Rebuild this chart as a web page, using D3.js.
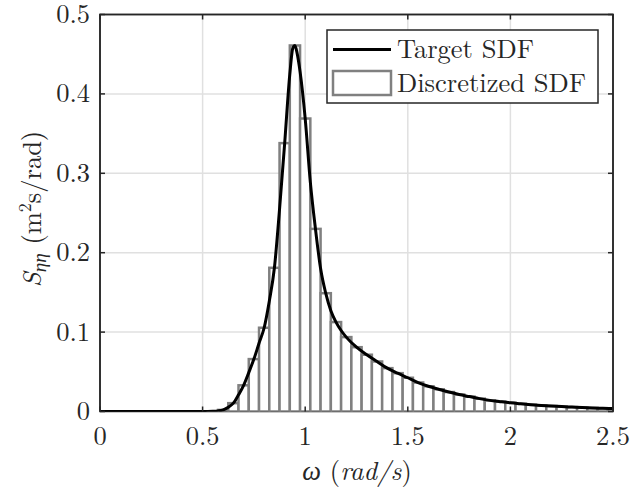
<!DOCTYPE html>
<html><head><meta charset="utf-8">
<script src="https://cdn.jsdelivr.net/npm/d3@7"></script>
<style>
body{margin:0;background:#fff;}
svg{display:block;}
</style></head>
<body><svg id="c" width="630" height="493"></svg>
<script>
// Bar centres (rad/s) and discretized SDF heights
const barOmega = d3.range(0, 51).map(i => +(i * 0.05).toFixed(2));
const barS = [0,0,0,0,0,0,0,0,0,0,0,
  0.0002,0.002,0.0105,0.033,0.066,0.1055,0.181,0.338,0.461,0.369,
  0.230,0.149,0.1126,0.0937,0.081,0.0715,0.0630,0.0546,0.0483,0.0425,
  0.0365,0.0318,0.0280,0.0245,0.0214,0.0188,0.0162,0.0140,0.0124,0.0109,
  0.0097,0.0086,0.0077,0.0069,0.0062,0.0056,0.0050,0.0045,0.0041,0.0037];
// Target SDF curve points
const curveOmega = [0,0.1,0.2,0.3,0.4,0.5,0.525,0.55,0.575,0.6,0.625,0.65,0.675,0.7,0.725,0.75,0.775,0.8,0.825,0.85,0.875,0.9,0.925,0.94,0.95,0.96,0.975,1.0,1.025,1.05,1.075,1.1,1.125,1.15,1.175,1.2,
  1.25,1.3,1.35,1.4,1.45,1.5,1.55,1.6,1.65,1.7,1.75,1.8,1.85,1.9,1.95,2.0,2.05,2.1,2.15,2.2,2.25,2.3,2.35,2.4,2.45,2.5];
const curveS = [0,0,0,0,0,0.00001,0.00003,0.0002,0.0007,0.002,0.0055,0.0105,0.021,0.033,0.049,0.066,0.086,0.1055,0.139,0.181,0.255,0.338,0.425,0.458,0.461,0.452,0.428,0.369,0.289,0.230,0.180,0.149,0.127,0.1126,0.102,0.0937,
  0.081,0.0715,0.0630,0.0546,0.0483,0.0425,0.0365,0.0318,0.0280,0.0245,0.0214,0.0188,0.0162,0.0140,0.0124,0.0109,0.0097,0.0086,0.0077,0.0069,0.0062,0.0056,0.0050,0.0045,0.0041,0.0037];
const xTicks = [0,0.5,1,1.5,2,2.5];
const xTickLabels = ["0","0.5","1","1.5","2","2.5"];
const yTicks = [0,0.1,0.2,0.3,0.4,0.5];
const yTickLabels = ["0","0.1","0.2","0.3","0.4","0.5"];
const legendLabels = ["Target SDF","Discretized SDF"];

const FONT = "'Latin Modern Roman', 'Liberation Serif', serif";
const L=100, T=14.5, R=613, B=411.5;
const svg = d3.select("#c");
const x = d3.scaleLinear().domain([0,2.5]).range([L,R]);
const y = d3.scaleLinear().domain([0,0.5]).range([B,T]);
const axisColor = "#262626";
const txtColor = "#262626";

svg.append("defs").append("clipPath").attr("id","clip")
  .append("rect").attr("x",L).attr("y",T).attr("width",R-L).attr("height",B-T);

// grid
const g = svg.append("g");
g.selectAll(".gx").data(xTicks.slice(1,-1)).join("line")
  .attr("x1",d=>x(d)).attr("x2",d=>x(d)).attr("y1",T).attr("y2",B)
  .attr("stroke","#e0e0e0").attr("stroke-width",1.5);
g.selectAll(".gy").data(yTicks.slice(1,-1)).join("line")
  .attr("y1",d=>y(d)).attr("y2",d=>y(d)).attr("x1",L).attr("x2",R)
  .attr("stroke","#e0e0e0").attr("stroke-width",1.5);

// box
svg.append("rect").attr("x",L).attr("y",T).attr("width",R-L).attr("height",B-T)
  .attr("fill","none").attr("stroke",axisColor).attr("stroke-width",1.5);

// bars
const bw = 0.05;
const plot = svg.append("g").attr("clip-path","url(#clip)");
plot.selectAll(".bar").data(barOmega.map((w,i)=>({w, s:barS[i]}))).join("rect")
  .attr("x",d=>x(d.w-bw/2)).attr("width",d=>x(d.w+bw/2)-x(d.w-bw/2))
  .attr("y",d=>y(d.s)).attr("height",d=>Math.max(0,y(0)-y(d.s)))
  .attr("fill","#fff").attr("stroke","#808080").attr("stroke-width",2.5);

// curve
const line = d3.line().x(d=>x(d[0])).y(d=>y(d[1])).curve(d3.curveMonotoneX);
plot.append("path").datum(curveOmega.map((w,i)=>[w,curveS[i]]))
  .attr("d",line).attr("fill","none").attr("stroke","#000").attr("stroke-width",3)
  .attr("stroke-linejoin","round");

// ticks (inward, all sides)
const tl = 5;
const tk = svg.append("g").attr("stroke",axisColor).attr("stroke-width",1.5);
xTicks.forEach(v=>{
  tk.append("line").attr("x1",x(v)).attr("x2",x(v)).attr("y1",B).attr("y2",B-tl);
  tk.append("line").attr("x1",x(v)).attr("x2",x(v)).attr("y1",T).attr("y2",T+tl);
});
yTicks.forEach(v=>{
  tk.append("line").attr("y1",y(v)).attr("y2",y(v)).attr("x1",L).attr("x2",L+tl);
  tk.append("line").attr("y1",y(v)).attr("y2",y(v)).attr("x1",R).attr("x2",R-tl);
});
svg.append("path").attr("d",`M${L},${B}V${T}H${R}V${B}`).attr("fill","none")
  .attr("stroke",axisColor).attr("stroke-width",1.5);

// tick labels
const fs = 26.5;
svg.selectAll(".xl").data(xTicks).join("text")
  .style("font-family",FONT).attr("fill",txtColor)
  .attr("x",d=>x(d)).attr("y",445).attr("text-anchor","middle")
  .attr("font-size",fs)
  .text((d,i)=>xTickLabels[i]);
svg.selectAll(".yl").data(yTicks).join("text")
  .style("font-family",FONT).attr("fill",txtColor)
  .attr("x",90).attr("y",d=>y(d)+8.5).attr("text-anchor","end")
  .attr("font-size",fs)
  .text((d,i)=>yTickLabels[i]);

// x label
const xl = svg.append("text").style("font-family",FONT).attr("fill",txtColor)
  .attr("x",357).attr("y",480).attr("text-anchor","middle").attr("font-size",fs);
xl.append("tspan").attr("font-style","italic").text("ω");
xl.append("tspan").text(" (");
xl.append("tspan").attr("font-style","italic").text("rad/s");
xl.append("tspan").text(")");

// y label
const yl = svg.append("text").style("font-family",FONT).attr("fill",txtColor)
  .attr("transform","translate(41,209) rotate(-90)")
  .attr("text-anchor","middle").attr("font-size",fs);
yl.append("tspan").attr("font-style","italic").text("S");
yl.append("tspan").attr("font-style","italic").attr("font-size",19).attr("dy",5).text("ηη");
yl.append("tspan").attr("dy",-5).text(" (m");
yl.append("tspan").attr("font-size",18).attr("dy",-10).text("2");
yl.append("tspan").attr("dy",10).text("s/rad)");

// legend
const lg = svg.append("g");
lg.append("rect").attr("x",327).attr("y",30).attr("width",271).attr("height",73)
  .attr("fill","#fff").attr("stroke",axisColor).attr("stroke-width",1.5);
lg.append("line").attr("x1",333).attr("x2",391).attr("y1",49.5).attr("y2",49.5)
  .attr("stroke","#000").attr("stroke-width",3);
lg.append("rect").attr("x",333).attr("y",71).attr("width",58).attr("height",24)
  .attr("fill","#fff").attr("stroke","#808080").attr("stroke-width",2.5);
lg.selectAll(".lt").data(legendLabels).join("text")
  .style("font-family",FONT).attr("fill",txtColor)
  .attr("x",397).attr("y",(d,i)=>i===0?58:92)
  .attr("font-size",fs).text(d=>d);
</script></body></html>
